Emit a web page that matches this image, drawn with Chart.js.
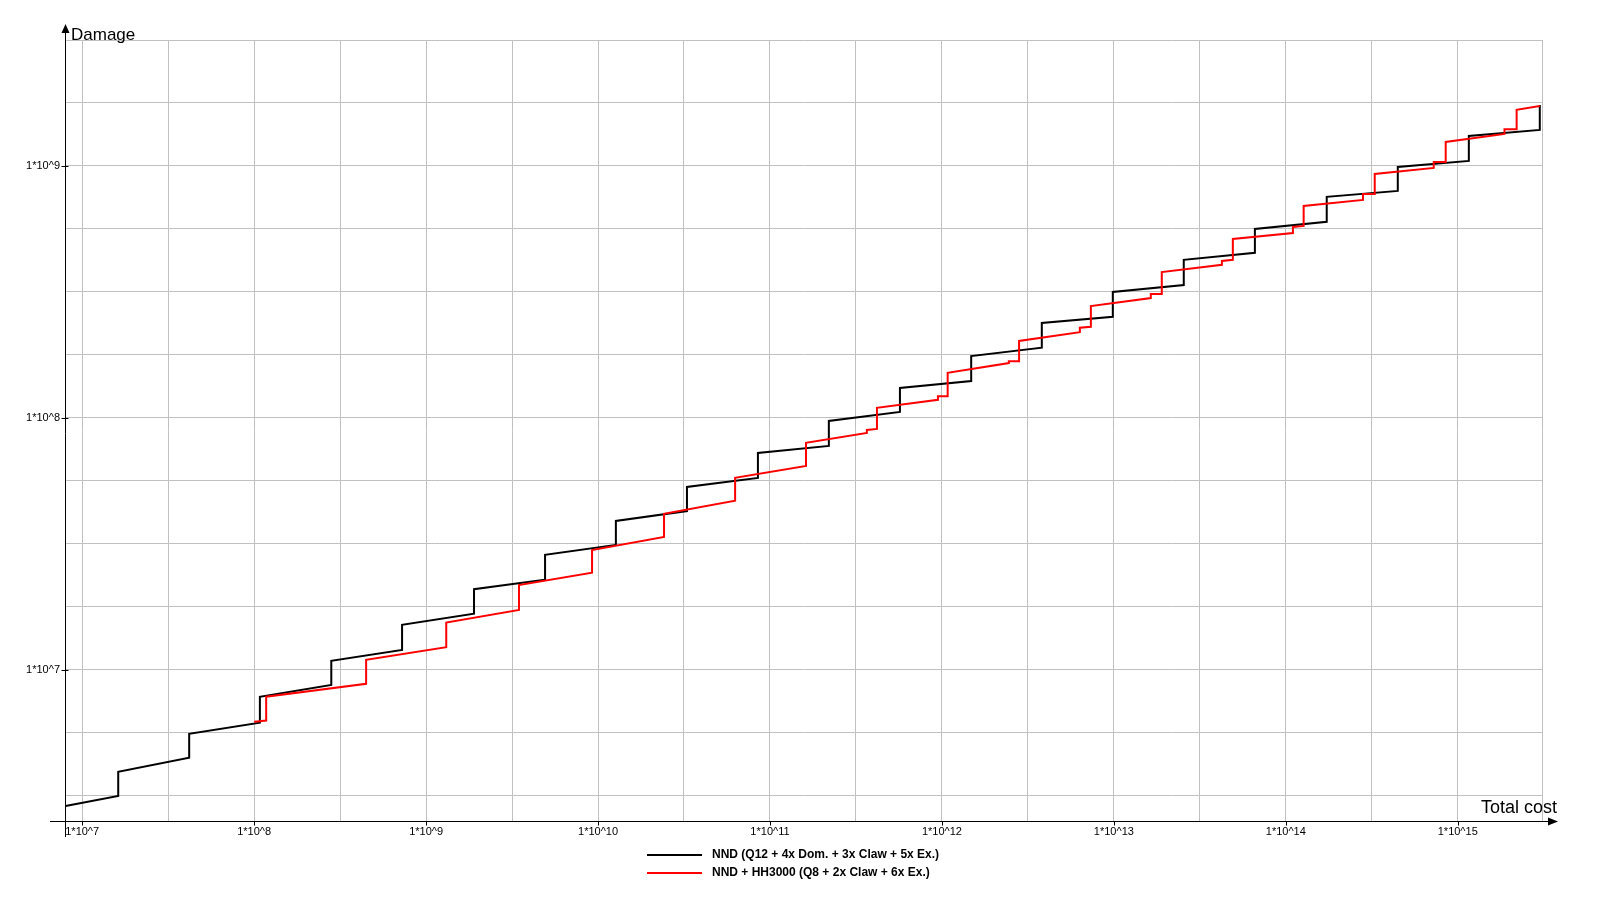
<!DOCTYPE html>
<html>
<head>
<meta charset="utf-8">
<title>Damage vs Total cost</title>
<script src="https://cdn.jsdelivr.net/npm/chart.js@4.4.1/dist/chart.umd.min.js"></script>
<style>
  body { margin: 0; background: #fff; }
  canvas { display: block; }
</style>
</head>
<body>
<canvas id="costChart" width="1600" height="900"></canvas>
<script>
// series: each step is two points with the same cost
const seriesLabels = [
  "NND (Q12 + 4x Dom. + 3x Claw + 5x Ex.)",
  "NND + HH3000 (Q8 + 2x Claw + 6x Ex.)"
];

const nndCost = [
  8.0e6, 1.62e7, 1.62e7, 4.19e7, 4.19e7, 1.08e8, 1.08e8, 2.81e8, 2.81e8,
  7.25e8, 7.25e8, 1.90e9, 1.90e9, 4.92e9, 4.92e9, 1.27e10, 1.27e10,
  3.29e10, 3.29e10, 8.51e10, 8.51e10, 2.20e11, 2.20e11, 5.70e11, 5.70e11,
  1.48e12, 1.48e12, 3.81e12, 3.81e12, 9.86e12, 9.86e12, 2.55e13, 2.55e13,
  6.61e13, 6.61e13, 1.73e14, 1.73e14, 4.48e14, 4.48e14, 1.16e15, 1.16e15,
  3.00e15, 3.00e15
];
const nndDamage = [
  2.88e6, 3.16e6, 3.94e6, 4.48e6, 5.57e6, 6.17e6, 7.82e6, 8.71e6, 1.086e7,
  1.20e7, 1.51e7, 1.67e7, 2.09e7, 2.28e7, 2.86e7, 3.13e7, 3.90e7,
  4.27e7, 5.32e7, 5.78e7, 7.26e7, 7.74e7, 9.73e7, 1.056e8, 1.315e8,
  1.40e8, 1.76e8, 1.90e8, 2.38e8, 2.52e8, 3.16e8, 3.37e8, 4.24e8,
  4.52e8, 5.62e8, 6.00e8, 7.54e8, 7.96e8, 9.91e8, 1.047e9, 1.315e9,
  1.39e9, 1.746e9
];

const hhCost = [
  1.00e8, 1.175e8, 1.175e8, 4.48e8, 4.48e8, 1.31e9, 1.31e9, 3.47e9, 3.47e9,
  9.23e9, 9.23e9, 2.42e10, 2.42e10, 6.27e10, 6.27e10, 1.62e11, 1.62e11,
  3.66e11, 3.66e11, 4.19e11, 4.19e11, 9.48e11, 9.48e11, 1.08e12, 1.08e12,
  2.45e12, 2.45e12, 2.81e12, 2.81e12, 6.34e12, 6.34e12, 7.35e12, 7.35e12,
  1.64e13, 1.64e13, 1.90e13, 1.90e13, 4.25e13, 4.25e13, 4.92e13, 4.92e13,
  1.10e14, 1.10e14, 1.27e14, 1.27e14, 2.81e14, 2.81e14, 3.29e14, 3.29e14,
  7.25e14, 7.25e14, 8.51e14, 8.51e14, 1.87e15, 1.87e15, 2.20e15, 2.20e15,
  3.00e15
];
const hhDamage = [
  6.22e6, 6.29e6, 7.82e6, 8.80e6, 1.096e7, 1.23e7, 1.54e7, 1.73e7, 2.17e7,
  2.43e7, 2.99e7, 3.37e7, 4.16e7, 4.69e7, 5.78e7, 6.45e7, 7.96e7,
  8.71e7, 8.96e7, 9.04e7, 1.096e8, 1.18e8, 1.22e8, 1.22e8, 1.51e8,
  1.65e8, 1.68e8, 1.68e8, 2.02e8, 2.19e8, 2.28e8, 2.30e8, 2.78e8,
  2.99e8, 3.10e8, 3.10e8, 3.79e8, 4.05e8, 4.20e8, 4.24e8, 5.13e8,
  5.42e8, 5.73e8, 5.78e8, 6.94e8, 7.33e8, 7.74e8, 7.74e8, 9.30e8,
  9.82e8, 1.038e9, 1.038e9, 1.245e9, 1.34e9, 1.40e9, 1.40e9, 1.67e9,
  1.73e9
];

// labelled decades on each axis
const xDecades = [7, 8, 9, 10, 11, 12, 13, 14, 15];
const yDecades = [7, 8, 9];

const X_MIN = Math.pow(10, 6.9);
const X_MAX = Math.pow(10, 15.49);

function decadeLabel(value) {
  const e = Math.log10(value);
  if (Math.abs(e - Math.round(e)) < 1e-9) return "1*10^" + Math.round(e);
  return "";
}

function toPoints(xs, ys) {
  return xs.map((x, i) => ({ x: x, y: ys[i] }));
}

Chart.defaults.font.family = "'Liberation Sans', Arial, sans-serif";
Chart.defaults.color = "#000";

// axes with arrows, tick marks, axis titles and the legend below
const axisDecor = {
  id: "axisDecor",
  afterDraw(chart) {
    const ctx = chart.ctx;
    const area = chart.chartArea;
    const xs = chart.scales.x;
    const ys = chart.scales.y;
    const ax = Math.round(area.left) + 0.5;
    const ay = Math.round(area.bottom) + 0.5;

    ctx.save();
    ctx.strokeStyle = "#000";
    ctx.fillStyle = "#000";
    ctx.lineWidth = 1;

    ctx.beginPath();
    ctx.moveTo(ax, 837);
    ctx.lineTo(ax, 30);
    ctx.moveTo(50, ay);
    ctx.lineTo(1550, ay);
    ctx.stroke();

    // arrow heads
    ctx.beginPath();
    ctx.moveTo(ax, 24);
    ctx.lineTo(ax - 4, 33);
    ctx.lineTo(ax + 4, 33);
    ctx.closePath();
    ctx.fill();
    ctx.beginPath();
    ctx.moveTo(1558, ay);
    ctx.lineTo(1548, ay - 4);
    ctx.lineTo(1548, ay + 4);
    ctx.closePath();
    ctx.fill();

    // tick marks on decades
    ctx.beginPath();
    yDecades.forEach((d) => {
      const py = Math.round(ys.getPixelForValue(Math.pow(10, d))) + 0.5;
      ctx.moveTo(ax - 4, py);
      ctx.lineTo(ax + 3, py);
    });
    xDecades.forEach((d) => {
      const px = Math.round(xs.getPixelForValue(Math.pow(10, d))) + 0.5;
      ctx.moveTo(px, ay);
      ctx.lineTo(px, ay + 4);
    });
    ctx.stroke();

    // axis titles
    ctx.textBaseline = "alphabetic";
    ctx.textAlign = "left";
    ctx.font = "17px 'Liberation Sans', Arial, sans-serif";
    ctx.fillText("Damage", 71, 40);
    ctx.textAlign = "right";
    ctx.font = "18px 'Liberation Sans', Arial, sans-serif";
    ctx.fillText("Total cost", 1557, 813);

    // legend
    ctx.font = "bold 12px 'Liberation Sans', Arial, sans-serif";
    ctx.textAlign = "left";
    ctx.textBaseline = "middle";
    chart.data.datasets.forEach((ds, i) => {
      const ly = 855 + i * 18;
      ctx.strokeStyle = ds.borderColor;
      ctx.lineWidth = 2;
      ctx.beginPath();
      ctx.moveTo(647, ly);
      ctx.lineTo(702, ly);
      ctx.stroke();
      ctx.fillText(ds.label, 712, ly);
    });
    ctx.restore();
  }
};

const ctx = document.getElementById("costChart").getContext("2d");

new Chart(ctx, {
  type: "line",
  data: {
    datasets: [
      {
        label: seriesLabels[0],
        data: toPoints(nndCost, nndDamage),
        borderColor: "#000000",
        borderWidth: 2,
        pointRadius: 0,
        tension: 0,
        fill: false,
        order: 1
      },
      {
        label: seriesLabels[1],
        data: toPoints(hhCost, hhDamage),
        borderColor: "#ff0000",
        borderWidth: 2,
        pointRadius: 0,
        tension: 0,
        fill: false,
        order: 0
      }
    ]
  },
  options: {
    responsive: false,
    animation: false,
    devicePixelRatio: 1,
    layout: { padding: { left: 0, top: 40, right: 58, bottom: 0 } },
    plugins: {
      legend: { display: false },
      tooltip: { enabled: false }
    },
    scales: {
      x: {
        type: "logarithmic",
        min: X_MIN,
        max: X_MAX,
        afterBuildTicks: (scale) => {
          const t = [];
          for (let k = 14; k <= 30; k++) t.push({ value: Math.pow(10, k / 2) });
          t.push({ value: X_MAX });
          scale.ticks = t;
        },
        afterFit: (scale) => { scale.height = 79; },
        ticks: {
          autoSkip: false,
          maxRotation: 0,
          padding: 4,
          font: { size: 11 },
          callback: decadeLabel
        },
        grid: { color: "#c0c0c0", drawTicks: false },
        border: { display: false }
      },
      y: {
        type: "logarithmic",
        min: Math.pow(10, 6.4),
        max: Math.pow(10, 9.5),
        afterBuildTicks: (scale) => {
          const t = [];
          for (let k = 26; k <= 38; k++) t.push({ value: Math.pow(10, k / 4) });
          scale.ticks = t;
        },
        afterFit: (scale) => { scale.width = 65; },
        ticks: {
          autoSkip: false,
          padding: 5,
          font: { size: 11 },
          callback: decadeLabel
        },
        grid: { color: "#c0c0c0", drawTicks: false },
        border: { display: false }
      }
    }
  },
  plugins: [axisDecor]
});
</script>
</body>
</html>
